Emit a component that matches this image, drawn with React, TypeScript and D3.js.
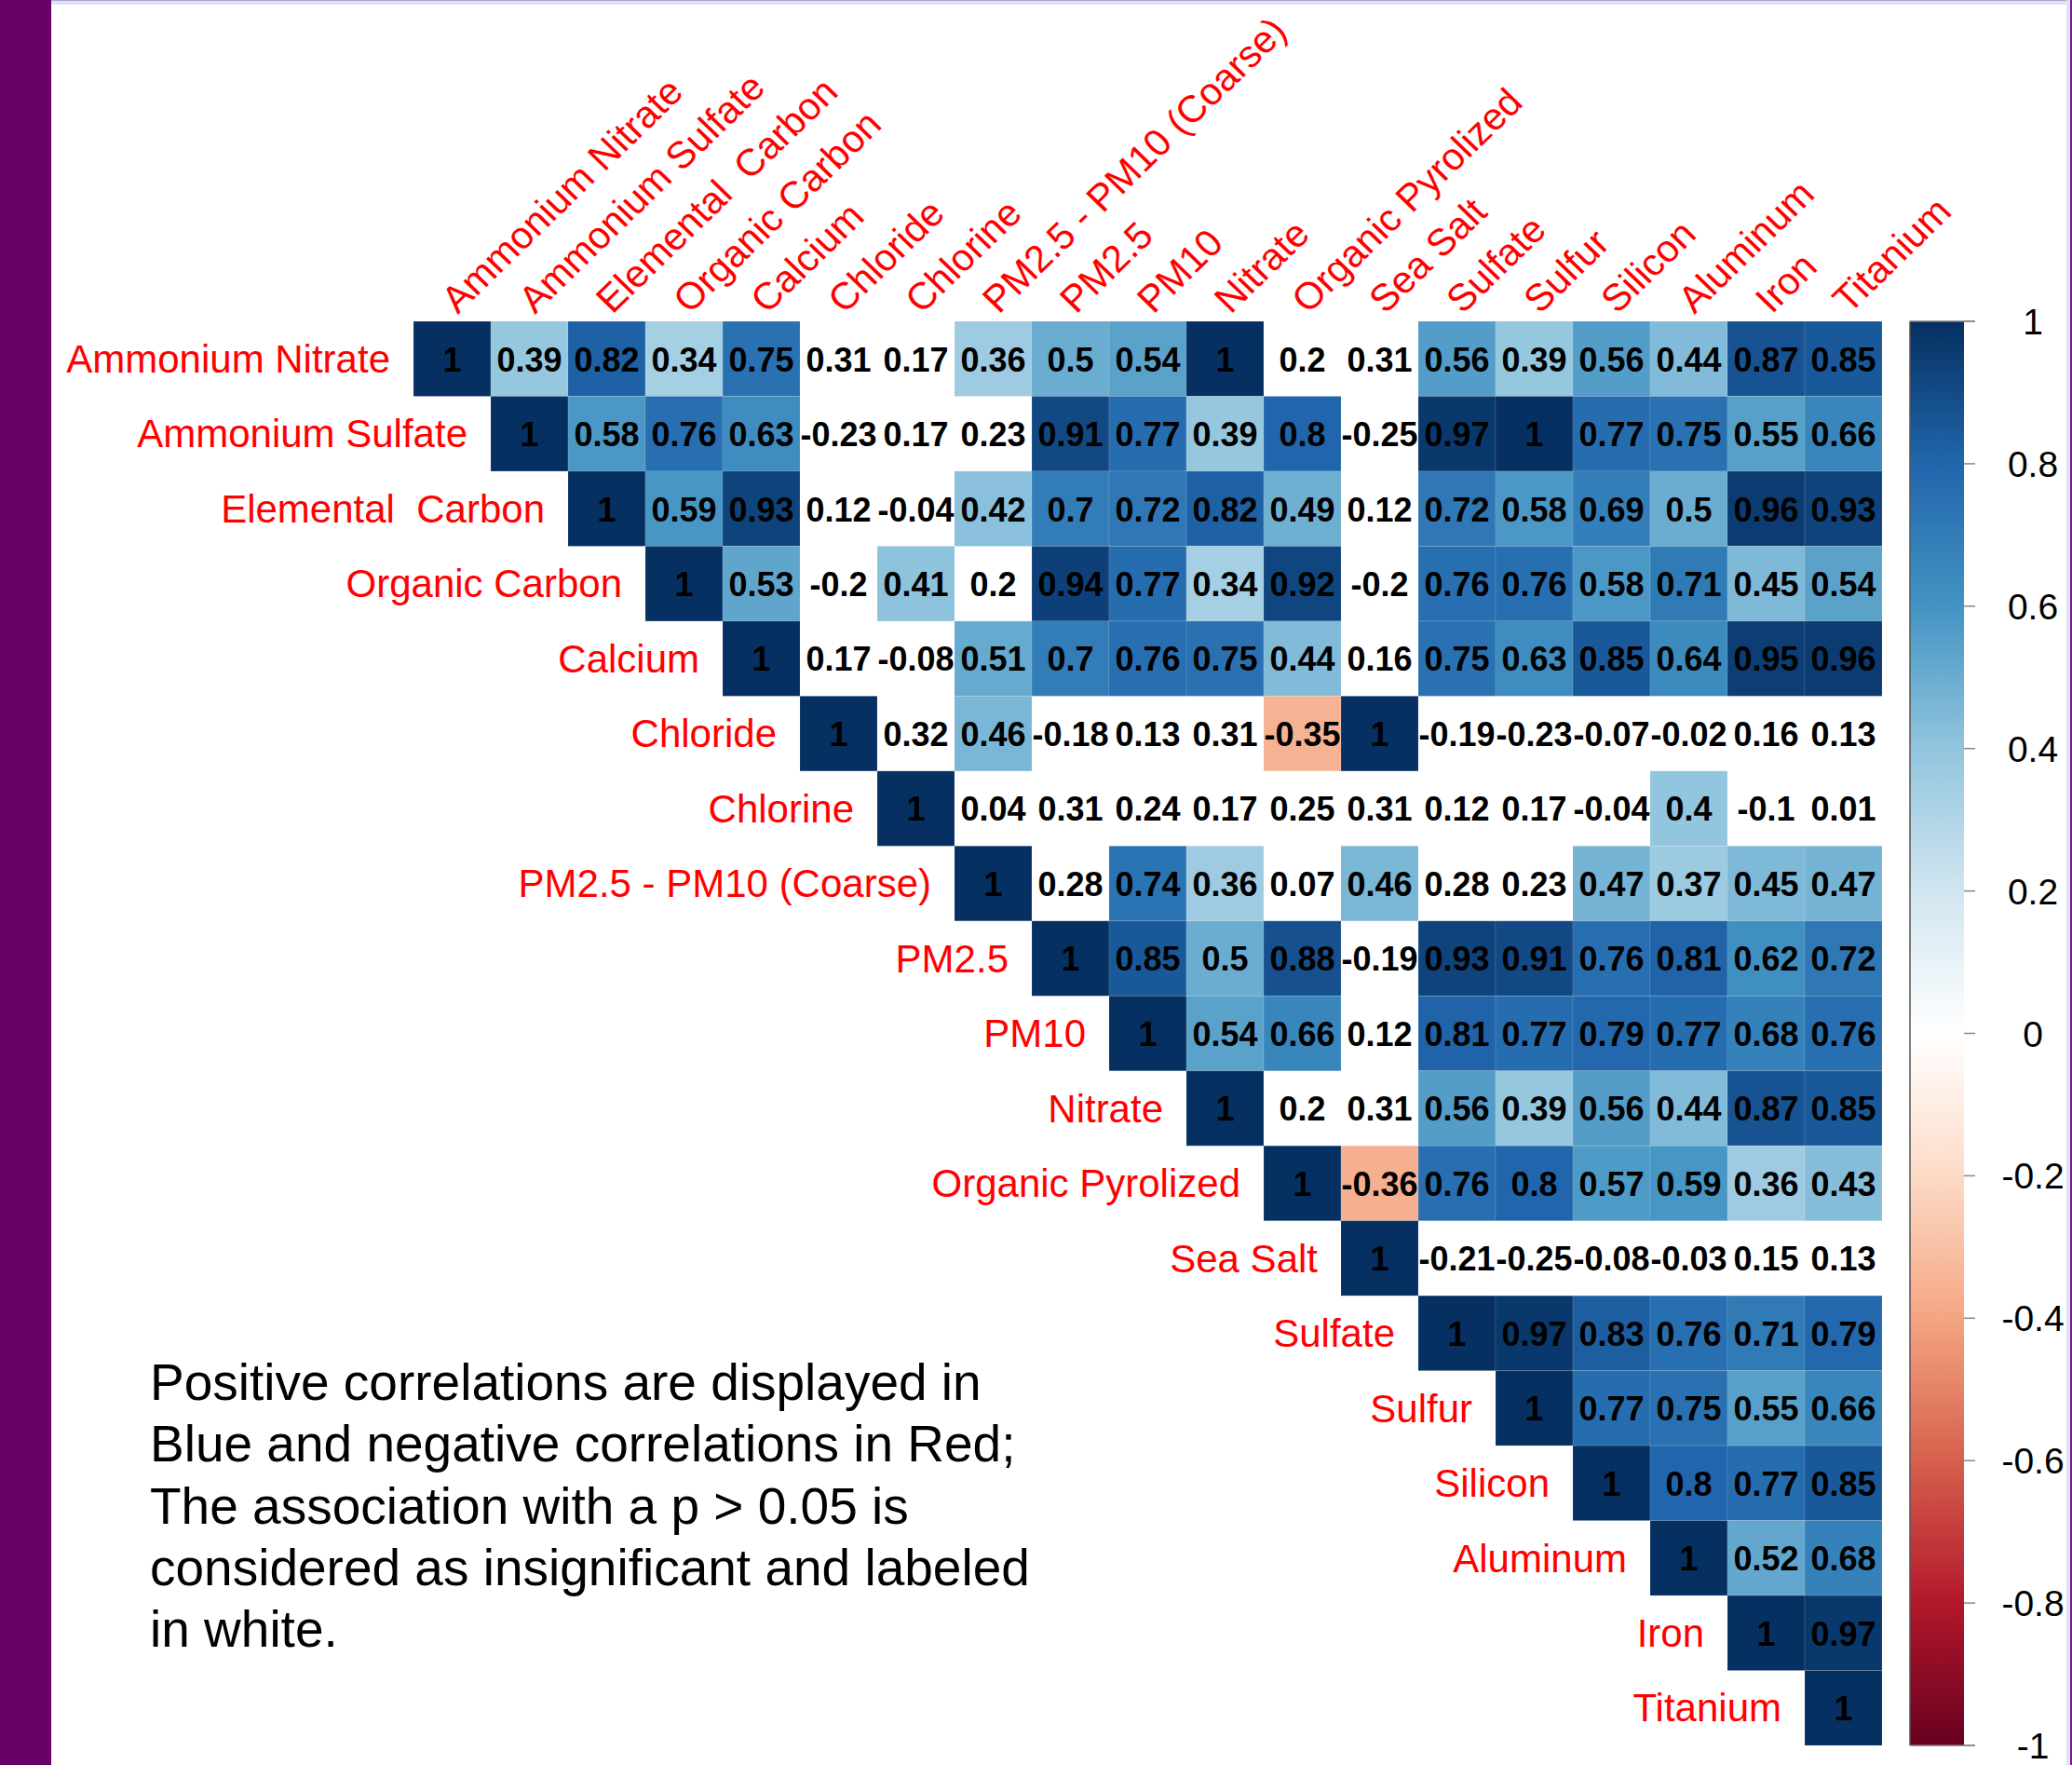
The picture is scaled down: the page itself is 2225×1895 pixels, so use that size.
import React from "react";
import * as d3 from "d3";

const variables = [
  "Ammonium Nitrate",
  "Ammonium Sulfate",
  "Elemental  Carbon",
  "Organic Carbon",
  "Calcium",
  "Chloride",
  "Chlorine",
  "PM2.5 - PM10 (Coarse)",
  "PM2.5",
  "PM10",
  "Nitrate",
  "Organic Pyrolized",
  "Sea Salt",
  "Sulfate",
  "Sulfur",
  "Silicon",
  "Aluminum",
  "Iron",
  "Titanium",
];

// upper triangle rows, each starting at the diagonal
const corrRows: number[][] = [
  [1, 0.39, 0.82, 0.34, 0.75, 0.31, 0.17, 0.36, 0.5, 0.54, 1, 0.2, 0.31, 0.56, 0.39, 0.56, 0.44, 0.87, 0.85],
  [1, 0.58, 0.76, 0.63, -0.23, 0.17, 0.23, 0.91, 0.77, 0.39, 0.8, -0.25, 0.97, 1, 0.77, 0.75, 0.55, 0.66],
  [1, 0.59, 0.93, 0.12, -0.04, 0.42, 0.7, 0.72, 0.82, 0.49, 0.12, 0.72, 0.58, 0.69, 0.5, 0.96, 0.93],
  [1, 0.53, -0.2, 0.41, 0.2, 0.94, 0.77, 0.34, 0.92, -0.2, 0.76, 0.76, 0.58, 0.71, 0.45, 0.54],
  [1, 0.17, -0.08, 0.51, 0.7, 0.76, 0.75, 0.44, 0.16, 0.75, 0.63, 0.85, 0.64, 0.95, 0.96],
  [1, 0.32, 0.46, -0.18, 0.13, 0.31, -0.35, 1, -0.19, -0.23, -0.07, -0.02, 0.16, 0.13],
  [1, 0.04, 0.31, 0.24, 0.17, 0.25, 0.31, 0.12, 0.17, -0.04, 0.4, -0.1, 0.01],
  [1, 0.28, 0.74, 0.36, 0.07, 0.46, 0.28, 0.23, 0.47, 0.37, 0.45, 0.47],
  [1, 0.85, 0.5, 0.88, -0.19, 0.93, 0.91, 0.76, 0.81, 0.62, 0.72],
  [1, 0.54, 0.66, 0.12, 0.81, 0.77, 0.79, 0.77, 0.68, 0.76],
  [1, 0.2, 0.31, 0.56, 0.39, 0.56, 0.44, 0.87, 0.85],
  [1, -0.36, 0.76, 0.8, 0.57, 0.59, 0.36, 0.43],
  [1, -0.21, -0.25, -0.08, -0.03, 0.15, 0.13],
  [1, 0.97, 0.83, 0.76, 0.71, 0.79],
  [1, 0.77, 0.75, 0.55, 0.66],
  [1, 0.8, 0.77, 0.85],
  [1, 0.52, 0.68],
  [1, 0.97],
  [1],
];

// column indices (absolute) of insignificant (p > 0.05) cells per row
const insignificant: number[][] = [
  [5, 6, 11, 12],
  [5, 6, 7, 12],
  [5, 6, 12],
  [5, 7, 12],
  [5, 6, 12],
  [6, 8, 9, 10, 13, 14, 15, 16, 17, 18],
  [7, 8, 9, 10, 11, 12, 13, 14, 15, 17, 18],
  [8, 11, 13, 14],
  [12],
  [12],
  [11, 12],
  [],
  [13, 14, 15, 16, 17, 18],
  [],
  [],
  [],
  [],
  [],
  [],
];

const paletteStops = [-1, -0.8, -0.6, -0.4, -0.2, 0, 0.2, 0.4, 0.6, 0.8, 1];
const paletteColors = [
  "#67001F", "#B2182B", "#D6604D", "#F4A582", "#FDDBC7", "#FFFFFF",
  "#D1E5F0", "#92C5DE", "#4393C3", "#2166AC", "#053061",
];
const legendTicks = [1, 0.8, 0.6, 0.4, 0.2, 0, -0.2, -0.4, -0.6, -0.8, -1];

const noteLines = [
  "Positive correlations are displayed in",
  "Blue and negative correlations in Red;",
  "The association with a p > 0.05 is",
  "considered as insignificant and labeled",
  "in white.",
];

const FONT = "'Liberation Sans', Arial, Helvetica, sans-serif";

export default function App() {
  const W = 2225;
  const H = 1895;
  const idx = variables.map((_, i) => i);
  const x = d3.scaleBand<number>().domain(idx).range([444, 2021]);
  const y = d3.scaleBand<number>().domain(idx).range([345, 1874]);
  const color = d3.scaleLinear<string>().domain(paletteStops).range(paletteColors).interpolate(d3.interpolateRgb);
  const cb = d3.scaleLinear().domain([-1, 1]).range([1874, 345]);
  const cbX0 = 2051;
  const cbX1 = 2109;
  const fmt = (v: number) => String(Math.round(v * 100) / 100);

  const cells: { r: number; c: number; v: number; sig: boolean }[] = [];
  corrRows.forEach((row, r) => {
    row.forEach((v, k) => {
      const c = r + k;
      cells.push({ r, c, v, sig: !insignificant[r].includes(c) });
    });
  });

  return (
    <svg
      width={W}
      height={H}
      viewBox={`0 0 ${W} ${H}`}
      style={{ position: "absolute", left: 0, top: 0, background: "#fff" }}
      fontFamily={FONT}
    >
      <defs>
        <linearGradient id="cbgrad" x1="0" y1="1" x2="0" y2="0">
          {paletteStops.map((s, i) => (
            <stop key={i} offset={`${((s + 1) / 2) * 100}%`} stopColor={paletteColors[i]} />
          ))}
        </linearGradient>
      </defs>
      <rect x={0} y={0} width={W} height={H} fill="#fff" />
      {/* slide frame */}
      <rect x={0} y={0} width={55} height={H} fill="#660066" />
      <rect x={55} y={0} width={W - 55} height={5} fill="#dde3f5" />
      <rect x={55} y={0} width={W - 55} height={1} fill="#b7a3d3" />
      <rect x={2219} y={0} width={4} height={H} fill="#dde3f5" />
      <rect x={2223} y={0} width={2} height={H} fill="#7a1a8a" />

      {/* cells */}
      {cells.map((d) => (
        <g key={`${d.r}-${d.c}`}>
          {d.sig && (
            <rect
              x={x(d.c)}
              y={y(d.r)}
              width={x.bandwidth()}
              height={y.bandwidth()}
              fill={color(d.v)}
              stroke="#ffffff"
              strokeOpacity={0.12}
              strokeWidth={1}
            />
          )}
          <text
            x={(x(d.c) as number) + x.bandwidth() / 2}
            y={(y(d.r) as number) + y.bandwidth() / 2}
            dy="0.37em"
            textAnchor="middle"
            fontSize={36}
            fontWeight="bold"
            fill="#000"
          >
            {fmt(d.v)}
          </text>
        </g>
      ))}

      {/* row labels */}
      {variables.map((name, i) => (
        <text
          key={`rl-${i}`}
          x={(x(i) as number) - 25}
          y={(y(i) as number) + y.bandwidth() / 2}
          dy="0.35em"
          textAnchor="end"
          fontSize={42}
          fill="#FF0000"
          style={{ whiteSpace: "pre" }}
        >
          {name}
        </text>
      ))}

      {/* column labels */}
      {variables.map((name, i) => {
        const cx = (x(i) as number) + x.bandwidth() / 2 + 6;
        const cy = 338;
        return (
          <text
            key={`cl-${i}`}
            transform={`translate(${cx} ${cy}) scale(1.03 1) rotate(-45)`}
            textAnchor="start"
            fontSize={40.5}
            fill="#FF0000"
            style={{ whiteSpace: "pre" }}
          >
            {name}
          </text>
        );
      })}

      {/* color bar */}
      <rect x={cbX0} y={cb(1)} width={cbX1 - cbX0} height={cb(-1) - cb(1)} fill="url(#cbgrad)" />
      <line x1={cbX0} x2={cbX0} y1={cb(1)} y2={cb(-1)} stroke="#555" strokeWidth={1.5} />
      <line x1={cbX0} x2={cbX1 + 12} y1={cb(1)} y2={cb(1)} stroke="#777" strokeWidth={1.5} />
      <line x1={cbX0} x2={cbX1 + 12} y1={cb(-1)} y2={cb(-1)} stroke="#777" strokeWidth={1.5} />
      {legendTicks.map((t) => (
        <g key={`t-${t}`}>
          <line x1={cbX1} x2={cbX1 + 12} y1={cb(t)} y2={cb(t)} stroke="#888" strokeWidth={1.5} />
          <text
            x={2183}
            y={cb(t)}
            dy="0.36em"
            textAnchor="middle"
            fontSize={39}
            fill="#000"
          >
            {String(t)}
          </text>
        </g>
      ))}

      {/* note */}
      {noteLines.map((line, i) => (
        <text key={`n-${i}`} x={161} y={1503 + i * 66.3} fontSize={55} fill="#000">
          {line}
        </text>
      ))}
    </svg>
  );
}
